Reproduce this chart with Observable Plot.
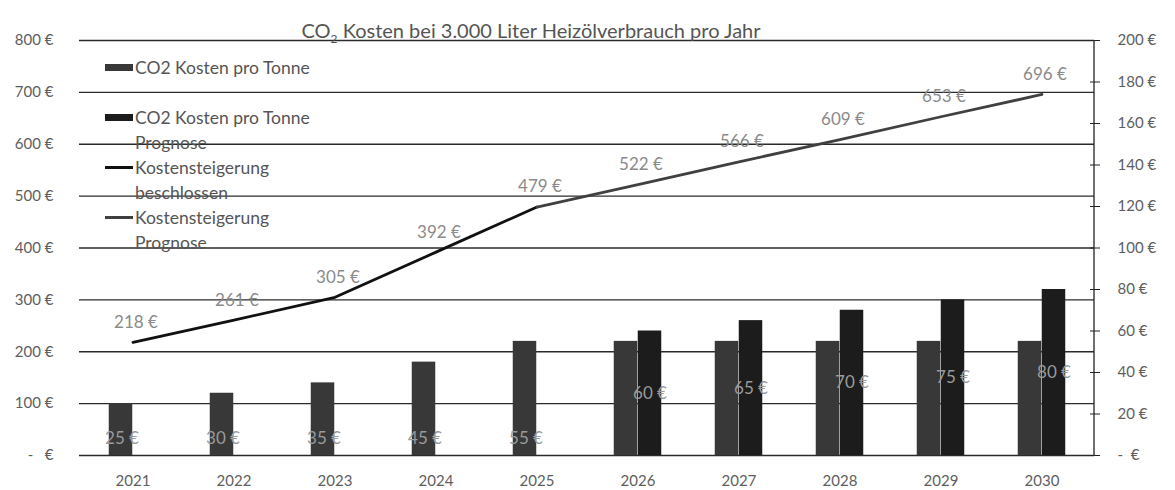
<!DOCTYPE html>
<html><head><meta charset="utf-8">
<script src="https://cdn.jsdelivr.net/npm/d3@7"></script>
<script src="https://cdn.jsdelivr.net/npm/@observablehq/plot@0.6"></script>
<style>
body{margin:0;background:#fff;font-family:Lato,sans-serif;}
#wrap{position:relative;width:1175px;height:490px;}
#title{position:absolute;top:20px;left:531px;transform:translateX(-50%);white-space:nowrap;font-size:20px;line-height:20px;color:#555;}
#title sub{font-size:12px;vertical-align:-5px;line-height:0;}
#legend{position:absolute;left:105px;top:55px;font-size:17.5px;line-height:25px;color:#555;}
.entry{display:flex;align-items:flex-start;height:50px;}
.sw{width:28px;flex:none;}
.sw.bar{height:7px;margin-top:9px;}
.sw.line{height:3px;margin-top:11px;}
.txt{margin-left:2px;white-space:nowrap;}
</style>
</head><body>
<div id="wrap">
  <div id="chart"></div>
  <div id="title"></div>
  <div id="legend"></div>
</div>
<script>
// ---- data ----
const years = ["2021","2022","2023","2024","2025","2026","2027","2028","2029","2030"];
const co2PerTonne = [25, 30, 35, 45, 55, 55, 55, 55, 55, 55];          // right axis (€/t)
const co2PerTonnePrognose = [null, null, null, null, null, 60, 65, 70, 75, 80];
const costBeschlossen = [218, 261, 305, 392, 479, null, null, null, null, null]; // left axis (€)
const costPrognose = [null, null, null, null, 479, 522, 566, 609, 653, 696];
const leftTicks = [0, 100, 200, 300, 400, 500, 600, 700, 800];
const rightTicks = [0, 20, 40, 60, 80, 100, 120, 140, 160, 180, 200];
const titleParts = ["CO", "2", " Kosten bei 3.000 Liter Heizölverbrauch pro Jahr"];
const seriesNames = ["CO2 Kosten pro Tonne", "CO2 Kosten pro Tonne<br>Prognose", "Kostensteigerung<br>beschlossen", "Kostensteigerung<br>Prognose"];

// ---- styles ----
const colBar1 = "#383838", colBar2 = "#1c1c1c", colLine1 = "#111111", colLine2 = "#404040";
const W = 1175, H = 490, mL = 79, mR = 81, mT = 40, mB = 35;
const leftMax = 800, rightMax = 200, ratio = leftMax / rightMax;
const bw = (W - mL - mR) / years.length, barW = 24;

const bars1 = years.map((y, i) => ({year: y, v: co2PerTonne[i]}));
const bars2 = years.map((y, i) => ({year: y, v: co2PerTonnePrognose[i]})).filter(d => d.v != null);
const line1 = years.map((y, i) => ({year: y, v: costBeschlossen[i]})).filter(d => d.v != null);
const line2 = years.map((y, i) => ({year: y, v: costPrognose[i]})).filter(d => d.v != null);
const lineLabels = years.map((y, i) => ({year: y, v: costBeschlossen[i] ?? costPrognose[i]}));
const bar1Labels = bars1.filter((d, i) => co2PerTonnePrognose[i] == null);

const fmtL = d => d === 0 ? "-\u00a0\u00a0\u00a0€" : `${d} €`;
const fmtR = d => d === 0 ? "-\u00a0\u00a0€" : `${d} €`;

const rightLine = (index, scales, values, dims) => {
  const x = dims.width - dims.marginRight;
  return d3.create("svg:line").attr("x1", x).attr("x2", x)
    .attr("y1", dims.marginTop).attr("y2", dims.height - dims.marginBottom)
    .attr("stroke", "#222").attr("stroke-width", 1.3).node();
};

const chart = Plot.plot({
  width: W, height: H,
  marginLeft: mL, marginRight: mR, marginTop: mT, marginBottom: mB,
  style: {fontFamily: "Lato, sans-serif", fontSize: "15px", color: "#5e5e5e", background: "transparent"},
  x: {domain: years, padding: 0, label: null},
  y: {domain: [0, leftMax], label: null},
  marks: [
    Plot.gridY(leftTicks, {stroke: "#2b2b2b", strokeOpacity: 1, strokeWidth: 1.3}),
    Plot.barY(bars1, {x: "year", y: d => d.v * ratio, fill: colBar1, insetLeft: bw / 2 - barW, insetRight: bw / 2}),
    Plot.barY(bars2, {x: "year", y: d => d.v * ratio, fill: colBar2, insetLeft: bw / 2, insetRight: bw / 2 - barW}),
    Plot.line(line1, {x: "year", y: "v", stroke: colLine1, strokeWidth: 2.8}),
    Plot.line(line2, {x: "year", y: "v", stroke: colLine2, strokeWidth: 2.8}),
    Plot.text(lineLabels, {x: "year", y: "v", text: d => `${d.v} €`, dy: -20, dx: 3, fill: "#8a8a8a", fontSize: 17}),
    Plot.text(bar1Labels, {x: "year", y: 0, text: d => `${d.v} €`, dy: -17, dx: -11, fill: "#9a9a9a", fontSize: 17}),
    Plot.text(bars2, {x: "year", y: d => d.v * ratio / 2, text: d => `${d.v} €`, dx: 12, fill: "#9a9a9a", fontSize: 17}),
    Plot.axisY(leftTicks, {anchor: "left", tickSize: 0, tickPadding: 26, tickFormat: fmtL, label: null}),
    Plot.axisY(rightTicks.map(d => d * ratio), {anchor: "right", tickSize: 10, dx: -5, stroke: "#222", tickFormat: () => "", label: null}),
    Plot.axisY(rightTicks.map(d => d * ratio), {anchor: "right", tickSize: 0, tickPadding: 23, tickFormat: d => fmtR(d / ratio), label: null}),
    Plot.axisX({tickSize: 0, tickPadding: 20, label: null}),
    rightLine
  ]
});
document.getElementById("chart").appendChild(chart);

document.getElementById("title").innerHTML = `${titleParts[0]}<sub>${titleParts[1]}</sub>${titleParts[2]}`;
const swatches = [["bar", colBar1], ["bar", colBar2], ["line", colLine1], ["line", colLine2]];
document.getElementById("legend").innerHTML = seriesNames.map((n, i) =>
  `<div class="entry"><div class="sw ${swatches[i][0]}" style="background:${swatches[i][1]}"></div><div class="txt">${n}</div></div>`).join("");
</script>
</body></html>
